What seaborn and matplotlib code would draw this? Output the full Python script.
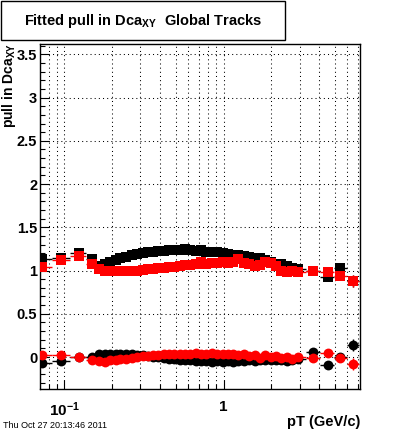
import numpy as np
import pandas as pd
import matplotlib
matplotlib.use("Agg")
import matplotlib.pyplot as plt
import seaborn as sns
from matplotlib.patches import Rectangle
from matplotlib.ticker import FixedLocator, FixedFormatter, MultipleLocator, NullFormatter

# ---------------- data ----------------
pt = [0.072, 0.096, 0.124, 0.150,
      0.165, 0.18, 0.195, 0.21, 0.225, 0.245, 0.265, 0.285, 0.31, 0.335,
      0.36, 0.39, 0.42, 0.455, 0.49, 0.53, 0.575, 0.62, 0.67, 0.725,
      0.78, 0.845, 0.91, 0.985, 1.065, 1.15, 1.24, 1.34, 1.45, 1.565,
      1.69, 1.83, 1.98, 2.14, 2.31, 2.5, 2.7, 2.95, 3.65, 4.5, 5.4, 6.5]

black_width = [1.13, 1.15, 1.20, 1.13,
               1.05, 1.07, 1.10, 1.12, 1.14, 1.16, 1.18, 1.19, 1.20, 1.21,
               1.22, 1.23, 1.23, 1.24, 1.24, 1.24, 1.25, 1.24, 1.23, 1.24,
               1.22, 1.22, 1.21, 1.20, 1.19, 1.18, 1.18, 1.17, 1.16, 1.15,
               1.14, 1.12, 1.10, 1.08, 1.07, 1.05, 1.03, 1.02, 0.99, 0.92, 1.03, 0.88]

red_width = [1.04, 1.12, 1.17, 1.08,
             1.02, 1.00, 0.99, 0.99, 0.99, 0.99, 1.00, 1.00, 1.01, 1.02,
             1.02, 1.03, 1.03, 1.04, 1.04, 1.05, 1.06, 1.06, 1.07, 1.10,
             1.08, 1.09, 1.09, 1.10, 1.09, 1.10, 1.13, 1.09, 1.07, 1.05,
             1.06, 1.10, 1.09, 1.05, 1.00, 0.98, 0.99, 0.98, 0.99, 0.98, 0.94, 0.88]

black_mean = [-0.07, -0.05, 0.00, 0.00,
              0.03, 0.04, 0.04, 0.03, 0.03, 0.03, 0.03, 0.02, 0.02, 0.01,
              0.00, 0.00, -0.01, -0.02, -0.02, -0.03, -0.04, -0.04, -0.05, -0.05,
              -0.05, -0.06, -0.05, -0.06, -0.05, -0.06, -0.05, -0.05, -0.04, -0.05,
              -0.04, -0.04, -0.03, -0.04, -0.03, -0.05, -0.03, -0.02, 0.06, -0.09, 0.00, 0.14]

red_mean = [0.02, 0.02, 0.00, -0.03,
            -0.05, -0.06, -0.04, -0.03, -0.02, -0.02, -0.01, 0.00, 0.01, 0.01,
            0.02, 0.02, 0.03, 0.03, 0.03, 0.04, 0.04, 0.04, 0.05, 0.04,
            0.04, 0.05, 0.04, 0.04, 0.03, 0.03, 0.02, 0.03, 0.01, 0.02,
            -0.01, 0.02, 0.00, 0.01, -0.01, 0.00, -0.02, 0.00, -0.01, 0.05, -0.01, -0.08]

yerr = [0.01] * 42 + [0.02, 0.03, 0.04, 0.07]

x_ticks = [0.1, 1.0]
x_ticklabels = [r"$\mathregular{10^{-1}}$", "1"]
x_minor = [0.08, 0.09, 0.2, 0.3, 0.4, 0.5, 0.6, 0.7, 0.8, 0.9, 2, 3, 4, 5, 6, 7]
y_ticks = [0, 0.5, 1, 1.5, 2, 2.5, 3, 3.5]
y_ticklabels = ["0", "0.5", "1", "1.5", "2", "2.5", "3", "3.5"]

# ---------------- style ----------------
sns.set_theme(style="white")
plt.rcParams["font.family"] = ["Liberation Sans", "DejaVu Sans"]
plt.rcParams["font.weight"] = "bold"
plt.rcParams["mathtext.fontset"] = "custom"
plt.rcParams["mathtext.rm"] = "Liberation Sans:bold"
plt.rcParams["mathtext.bf"] = "Liberation Sans:bold"
plt.rcParams["mathtext.it"] = "Liberation Sans:bold"

W, H = 400, 433
fig = plt.figure(figsize=(W / 100, H / 100), dpi=100)
fig.patch.set_facecolor("white")
ax = fig.add_axes([40 / W, 1 - 389 / H, 320 / W, (389 - 44) / H])
ax.set_facecolor("white")

ax.set_xscale("log")
ax.set_xlim(0.0704, 7.19)
ax.set_ylim(-0.37, 3.62)

# bin half-widths (geometric midpoints between neighbours)
p = np.array(pt)
edges = np.sqrt(p[:-1] * p[1:])
lo_edge = np.concatenate([[p[0] ** 2 / edges[0]], edges])
hi_edge = np.concatenate([edges, [p[-1] ** 2 / edges[-1]]])
xerr = [p - lo_edge, hi_edge - p]

df = pd.DataFrame({"pT": pt, "bw": black_width, "rw": red_width,
                   "bm": black_mean, "rm": red_mean})

series = [("bw", "black", "s", 58), ("bm", "black", "o", 50),
          ("rw", "#ff0000", "s", 58), ("rm", "#ff0000", "o", 50)]
for col, color, marker, size in series:
    ax.errorbar(df["pT"], df[col], xerr=xerr, yerr=yerr, fmt="none",
                ecolor=color, elinewidth=1.0, capsize=0, zorder=3)
    sns.scatterplot(data=df, x="pT", y=col, color=color, marker=marker,
                    s=size, linewidth=0, ax=ax, zorder=4, legend=False)

# ---------------- axes decoration ----------------
ax.xaxis.set_major_locator(FixedLocator(x_ticks))
ax.xaxis.set_major_formatter(FixedFormatter(x_ticklabels))
ax.xaxis.set_minor_locator(FixedLocator(x_minor))
ax.xaxis.set_minor_formatter(NullFormatter())
ax.yaxis.set_major_locator(FixedLocator(y_ticks))
ax.yaxis.set_major_formatter(FixedFormatter(y_ticklabels))
ax.yaxis.set_minor_locator(MultipleLocator(0.1))

ax.grid(True, which="major", axis="both", color="black", linestyle=(0, (1, 3)), linewidth=0.75)
ax.grid(True, which="minor", axis="x", color="black", linestyle=(0, (1, 3)), linewidth=0.75)
ax.set_axisbelow(True)

ax.tick_params(axis="both", which="major", direction="in", length=6.5, width=0.8,
               color="black", labelsize=10.5, labelcolor="black",
               top=False, right=False, bottom=True, left=True)
ax.tick_params(axis="both", which="minor", direction="in", length=3.5, width=0.8,
               color="black", top=False, right=False, bottom=True, left=True)
ax.tick_params(axis="x", which="major", pad=8, labelsize=11)
ax.tick_params(axis="y", which="major", pad=2)
for lbl in ax.get_xticklabels() + ax.get_yticklabels():
    lbl.set_fontweight("bold")
for s in ax.spines.values():
    s.set_visible(True)
    s.set_color("black")
    s.set_linewidth(1.0)
ax.set_xlabel("")
ax.set_ylabel("")

# ---------------- texts ----------------
fig.patches.append(Rectangle((1 / W, 1 - 40 / H), 284 / W, 39 / H, transform=fig.transFigure,
                             facecolor="white", edgecolor="black", linewidth=1.0))
fig.text(143 / W, 1 - 25 / H, r"Fitted pull in Dca$_{\mathregular{XY}}$  Global Tracks",
         ha="center", va="baseline", fontsize=10.5, fontweight="bold", color="black")
fig.text(0, 1 - 43 / H, r"pull in Dca$_{\mathregular{XY}}$", rotation=90,
         ha="left", va="top", fontsize=10, fontweight="bold", color="black")
fig.text(360 / W, 1 - 422 / H, "pT (GeV/c)", ha="right", va="center",
         fontsize=10.5, fontweight="bold", color="black")
fig.text(3 / W, 1 - 425 / H, "Thu Oct 27 20:13:46 2011", ha="left", va="center",
         fontsize=6.5, fontweight="normal", color="black")

fig.savefig("out.png", dpi=100, facecolor="white")
